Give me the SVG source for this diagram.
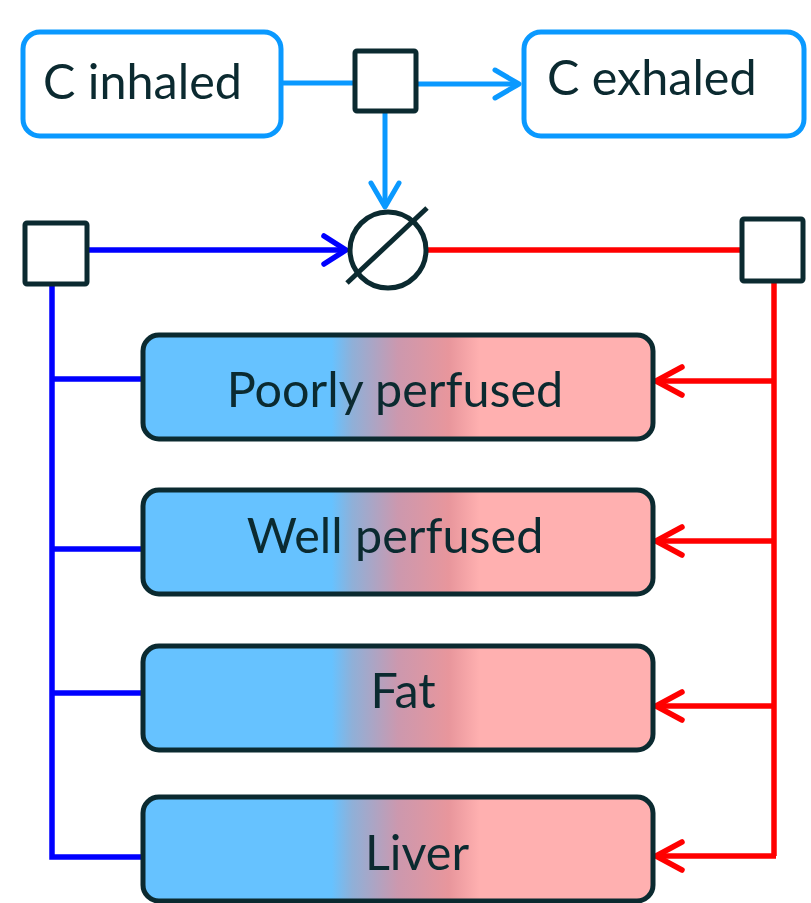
<svg xmlns="http://www.w3.org/2000/svg" width="811" height="903" viewBox="0 0 811 903">
<style>
.lbl{font-family:Lato,"Open Sans","Liberation Sans",sans-serif;font-size:48.5px;fill:#0b2a30}
.io{fill:#fff;stroke:#0a99ff;stroke-width:5}
.sq{fill:#fff;stroke:#0b2a30;stroke-width:5}
.comp{fill:url(#grad);stroke:#0b2a30;stroke-width:5}
.lb{fill:none;stroke:#0a99ff;stroke-width:5}
.db{fill:none;stroke:#0000ff;stroke-width:5.5}
.rd{fill:none;stroke:#ff0000;stroke-width:5.5}
</style>
<defs>
<linearGradient id="grad" x1="0" y1="0" x2="1" y2="0">
<stop offset="0" stop-color="#66c2ff"/>
<stop offset="0.37" stop-color="#66c2ff"/>
<stop offset="0.41" stop-color="#8fb0d8"/>
<stop offset="0.5" stop-color="#cc98ae"/>
<stop offset="0.6" stop-color="#e8969c"/>
<stop offset="0.66" stop-color="#ffb0b0"/>
<stop offset="1" stop-color="#ffb0b0"/>
</linearGradient>
<marker id="aLb" markerUnits="userSpaceOnUse" markerWidth="40" markerHeight="40" viewBox="-30 -20 40 40" refX="0" refY="0" orient="auto">
<path d="M-24,-14 L0,0 L-24,14" fill="none" stroke="#0a99ff" stroke-width="5" stroke-linecap="round" stroke-linejoin="round"/>
</marker>
<marker id="aDb" markerUnits="userSpaceOnUse" markerWidth="40" markerHeight="40" viewBox="-30 -20 40 40" refX="0" refY="0" orient="auto">
<path d="M-22,-14 L0,0 L-22,14" fill="none" stroke="#0000ff" stroke-width="5.5" stroke-linecap="round" stroke-linejoin="round"/>
</marker>
<marker id="aRd" markerUnits="userSpaceOnUse" markerWidth="40" markerHeight="40" viewBox="-30 -20 40 40" refX="0" refY="0" orient="auto">
<path d="M-26,-14 L0,0 L-26,14" fill="none" stroke="#ff0000" stroke-width="5.5" stroke-linecap="round" stroke-linejoin="round"/>
</marker>
</defs>

<g id="connectors">
<path class="lb" d="M281,83 H353"/>
<path class="lb" d="M417,84 H519" marker-end="url(#aLb)"/>
<path class="lb" d="M385,111 V207" marker-end="url(#aLb)"/>
<path class="db" d="M88,250 H346" marker-end="url(#aDb)"/>
<path class="rd" d="M428,250 H742"/>
<path class="db" d="M52,285 V857 H143"/>
<path class="db" d="M52,379 H143 M52,549 H143 M52,693 H143"/>
<path class="rd" d="M774,282 V856"/>
<path class="rd" d="M774,381 H656" marker-end="url(#aRd)"/>
<path class="rd" d="M774,541 H656" marker-end="url(#aRd)"/>
<path class="rd" d="M774,706 H656" marker-end="url(#aRd)"/>
<path class="rd" d="M776,856 H656" marker-end="url(#aRd)"/>
</g>

<g id="c-inhaled">
<rect class="io" x="23" y="32" width="258" height="104" rx="17"/>
<text class="lbl" x="43" y="99">C inhaled</text>
</g>
<g id="c-exhaled">
<rect class="io" x="524" y="32" width="280" height="104" rx="17"/>
<text class="lbl" x="547" y="95">C exhaled</text>
</g>
<g id="junction-top">
<rect class="sq" x="355" y="51" width="61" height="60" rx="2"/>
</g>
<g id="sink">
<circle cx="388" cy="250" r="38" fill="#fff" stroke="#0b2a30" stroke-width="5"/>
<line x1="347" y1="283" x2="427" y2="208" stroke="#0b2a30" stroke-width="5"/>
</g>
<g id="venous">
<rect class="sq" x="25" y="223" width="62" height="61" rx="2"/>
</g>
<g id="arterial">
<rect class="sq" x="742" y="219" width="61" height="62" rx="2"/>
</g>
<g id="poorly-perfused">
<rect class="comp" x="143" y="335" width="510" height="104" rx="16"/>
<text class="lbl" x="395" y="407" text-anchor="middle">Poorly perfused</text>
</g>
<g id="well-perfused">
<rect class="comp" x="143" y="490" width="510" height="104" rx="16"/>
<text class="lbl" x="395" y="553" text-anchor="middle">Well perfused</text>
</g>
<g id="fat">
<rect class="comp" x="143" y="646" width="510" height="104" rx="16"/>
<text class="lbl" x="403" y="708" text-anchor="middle">Fat</text>
</g>
<g id="liver">
<rect class="comp" x="143" y="797" width="510" height="104" rx="16"/>
<text class="lbl" x="417" y="870" text-anchor="middle">Liver</text>
</g>
</svg>
